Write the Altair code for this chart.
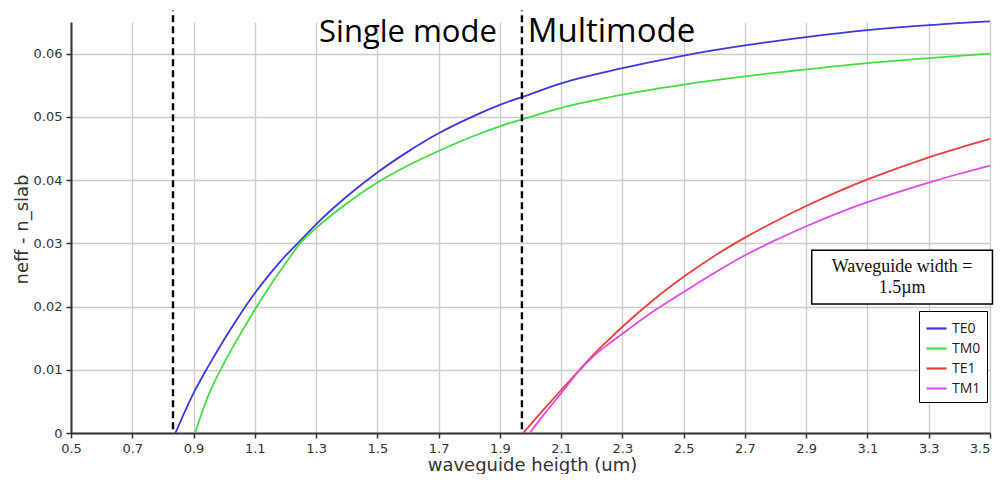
import altair as alt
import pandas as pd

# ---- data ----
modes = ["TE0", "TM0", "TE1", "TM1"]
mode_colors = ["#3a3ad8", "#44dd44", "#e8413c", "#e44be8"]

te0_h = [0.841, 0.9, 0.95, 1.0, 1.05, 1.1, 1.15, 1.2, 1.25, 1.3, 1.4, 1.5, 1.6, 1.7, 1.8, 1.9, 2.0, 2.1, 2.3, 2.5, 2.7, 2.9, 3.1, 3.3, 3.5]
te0_n = [0.0, 0.0063, 0.0107, 0.0148, 0.0186, 0.0221, 0.0252, 0.0280, 0.0305, 0.0330, 0.0374, 0.0412, 0.0445, 0.0474, 0.0498, 0.0519, 0.0536, 0.0553, 0.0577, 0.0597, 0.0613, 0.0626, 0.0637, 0.0645, 0.0651]

tm0_h = [0.905, 0.943, 1.0, 1.05, 1.1, 1.15, 1.2, 1.25, 1.3, 1.4, 1.5, 1.6, 1.7, 1.8, 1.9, 2.0, 2.1, 2.3, 2.5, 2.7, 2.9, 3.1, 3.3, 3.5]
tm0_n = [0.0, 0.0053, 0.0111, 0.0154, 0.0195, 0.0233, 0.0268, 0.0301, 0.0324, 0.0363, 0.0396, 0.0423, 0.0446, 0.0467, 0.0485, 0.0500, 0.0514, 0.0535, 0.0551, 0.0564, 0.0575, 0.0585, 0.0593, 0.0600]

te1_h = [1.976, 2.05, 2.1, 2.16, 2.2, 2.25, 2.3, 2.4, 2.5, 2.6, 2.7, 2.8, 2.9, 3.0, 3.1, 3.2, 3.3, 3.4, 3.5]
te1_n = [0.0, 0.0041, 0.0068, 0.0100, 0.0121, 0.0145, 0.0168, 0.0210, 0.0247, 0.0280, 0.0309, 0.0335, 0.0359, 0.0381, 0.0401, 0.0419, 0.0436, 0.0451, 0.0465]

tm1_h = [1.997, 2.05, 2.1, 2.16, 2.2, 2.25, 2.3, 2.4, 2.5, 2.6, 2.7, 2.8, 2.9, 3.0, 3.1, 3.2, 3.3, 3.4, 3.5]
tm1_n = [0.0, 0.0033, 0.0063, 0.0099, 0.0119, 0.0139, 0.0157, 0.0192, 0.0223, 0.0253, 0.0281, 0.0305, 0.0327, 0.0347, 0.0365, 0.0381, 0.0396, 0.0410, 0.0423]

x_ticks = [0.5, 0.7, 0.9, 1.1, 1.3, 1.5, 1.7, 1.9, 2.1, 2.3, 2.5, 2.7, 2.9, 3.1, 3.3, 3.5]
y_ticks = [0.0, 0.01, 0.02, 0.03, 0.04, 0.05, 0.06]

cutoff_h = [0.833, 1.972]
region_labels = ["Single mode", "Multimode"]
region_label_h = [1.890, 1.991]
region_label_n = 0.0618

note_lines = ["Waveguide width =", "1.5µm"]
note_line_n = [0.0254, 0.0221]
note_box = {"h0": 2.918, "h1": 3.508, "n0": 0.0289, "n1": 0.0204}

# ---- build tables ----
rows = []
for name, hs, ns in [("TE0", te0_h, te0_n), ("TM0", tm0_h, tm0_n),
                     ("TE1", te1_h, te1_n), ("TM1", tm1_h, tm1_n)]:
    for h, n in zip(hs, ns):
        rows.append({"mode": name, "h": h, "neff": n})
df = pd.DataFrame(rows)

tick_font = "DejaVu Sans"
x_scale = alt.Scale(domain=[0.5, 3.5], nice=False, zero=False)
y_scale = alt.Scale(domain=[0, 0.065], nice=False, zero=True)

x_axis = alt.Axis(values=x_ticks, format=".1f", title="waveguide heigth (um)", labelFlush=False,
                  labelAlign=alt.condition("datum.value >= 3.45", alt.value("right"), alt.value("center")),
                  titleX=461, titleY=37, titleAlign="center", titleBaseline="alphabetic",
                  titleFontSize=18, titleFontWeight="normal", titleFont=tick_font,
                  titleColor="#333333")
y_axis = alt.Axis(values=y_ticks, labelFlush=False,
                  labelExpr="datum.value == 0 ? '0' : format(datum.value, '.2f')",
                  title="neff - n_slab", titleX=-49, titleY=207, titleAngle=270,
                  titleAlign="center", titleBaseline="middle",
                  titleFontSize=18, titleFontWeight="normal", titleFont=tick_font,
                  titleColor="#333333")


def X(field):
    return alt.X(field, type="quantitative", scale=x_scale, axis=x_axis)


def Y(field):
    return alt.Y(field, type="quantitative", scale=y_scale, axis=y_axis)


lines = alt.Chart(df).mark_line(strokeWidth=1.8, interpolate="monotone", clip=False).encode(
    x=X("h"),
    y=Y("neff"),
    color=alt.Color("mode:N", sort=modes,
                    scale=alt.Scale(domain=modes, range=mode_colors),
                    legend=alt.Legend(title=None, orient="none", legendX=848, legendY=289,
                                      strokeColor="black", fillColor="white", padding=6,
                                      symbolType="stroke", symbolStrokeWidth=2.2,
                                      symbolSize=400, labelFontSize=14, labelFont="Open Sans",
                                      labelColor="#222222", rowPadding=1, labelOffset=4)),
)

rules_df = pd.DataFrame({"h": cutoff_h, "n0": [0.0006] * 2, "n1": [0.0668] * 2})
rules = alt.Chart(rules_df).mark_rule(color="black", strokeWidth=2.4, strokeDash=[7, 4], clip=False).encode(
    x=X("h"), y=Y("n0"), y2="n1:Q",
)

lab_df = pd.DataFrame({"h": region_label_h, "n": [region_label_n] * 2, "t": region_labels})
lab_single = alt.Chart(lab_df.iloc[[0]]).mark_text(
    font="Open Sans", fontSize=31, align="right", baseline="alphabetic", color="black", clip=False
).encode(x=X("h"), y=Y("n"), text="t:N")
lab_multi = alt.Chart(lab_df.iloc[[1]]).mark_text(
    font="Open Sans", fontSize=33, align="left", baseline="alphabetic", color="black", clip=False
).encode(x=X("h"), y=Y("n"), text="t:N")

box_df = pd.DataFrame([note_box])
box = alt.Chart(box_df).mark_rect(fill="white", stroke="black", strokeWidth=1.5, clip=False).encode(
    x=X("h0"), x2="h1:Q", y=Y("n0"), y2="n1:Q",
)
note_df = pd.DataFrame({"t": note_lines, "n": note_line_n,
                        "h": [(note_box["h0"] + note_box["h1"]) / 2] * 2})
note = alt.Chart(note_df).mark_text(
    font="Liberation Serif", fontSize=18, align="center", baseline="alphabetic", color="#111111", clip=False
).encode(x=X("h"), y=Y("n"), text="t:N")

chart = alt.layer(lines, rules, box, note, lab_single, lab_multi).properties(
    width=919, height=411,
    autosize=alt.AutoSizeParams(type="none"),
    padding={"left": 63, "top": 14, "right": 4, "bottom": 41},
).configure_view(stroke=None).configure_axis(
    grid=True, gridColor="#cccccc", gridWidth=1.4,
    domainColor="#333333", domainWidth=2,
    tickColor="#333333", tickSize=5, tickWidth=1.5,
    labelFont=tick_font, labelFontSize=13, labelColor="#333333", labelPadding=4,
)

chart.save("out.html", embed_options={"renderer": "svg", "actions": False})
